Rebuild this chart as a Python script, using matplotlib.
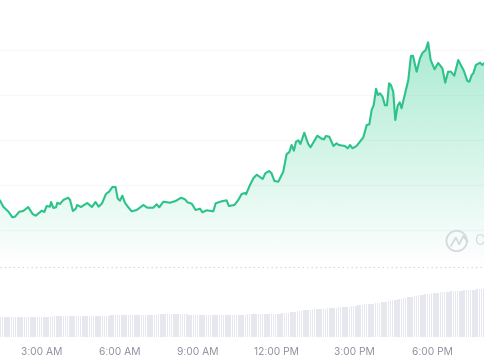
import numpy as np
import matplotlib
matplotlib.use('Agg')
import matplotlib.pyplot as plt

plt.rcParams['font.family'] = ['Inter', 'DejaVu Sans']

# hours since midnight
hours = [1.39, 1.51, 1.71, 1.86, 1.96, 2.13, 2.28, 2.47, 2.64, 2.76, 2.99, 3.09, 3.18, 3.31, 3.35, 3.44,
         3.54, 3.59, 3.69, 3.82, 4.01, 4.08, 4.19, 4.30, 4.35, 4.50, 4.74, 4.92, 5.06, 5.18, 5.31, 5.46,
         5.58, 5.71, 5.83, 5.91, 6.00, 6.09, 6.19, 6.32, 6.45, 6.64, 6.90, 7.05, 7.28, 7.41, 7.51, 7.67,
         7.92, 8.14, 8.35, 8.50, 8.60, 8.76, 8.91, 9.08, 9.17, 9.33, 9.59, 9.68, 9.91, 10.10, 10.19, 10.40,
         10.55, 10.68, 10.81, 10.85, 11.00, 11.13, 11.26, 11.49, 11.59, 11.74, 11.83, 11.94, 12.09, 12.28,
         12.41, 12.51, 12.60, 12.69, 12.77, 12.86, 12.94, 13.09, 13.24, 13.33, 13.59, 13.76, 13.85, 13.92,
         14.05, 14.21, 14.33, 14.42, 14.65, 14.76, 14.85, 14.94, 15.10, 15.36, 15.49, 15.59, 15.68, 15.76,
         15.85, 15.92, 16.00, 16.10, 16.19, 16.27, 16.35, 16.42, 16.51, 16.59, 16.68, 16.76, 16.83, 17.09,
         17.19, 17.27, 17.41, 17.54, 17.64, 17.76, 17.85, 17.95, 18.10, 18.24, 18.40, 18.51, 18.62, 18.73,
         18.86, 19.01, 19.23, 19.36, 19.44, 19.53, 19.59, 19.69, 19.85, 19.94, 20.04]

# price, relative to the dotted reference line
price = [66.3, 60.3, 55.3, 49.7, 50.3, 55.3, 56, 60, 53, 51.3, 56.3, 55, 61, 60.3, 65, 59,
         59.7, 64.3, 63, 67, 69.3, 67, 56, 58.3, 62, 60, 64, 60, 65, 60.3, 63.7, 73,
         75.3, 80, 80, 68.7, 66.3, 71.3, 64.3, 59.7, 55.7, 57, 62, 59.3, 59.3, 62.7, 59.7, 65.3,
         64.3, 66, 69.3, 67.7, 64.7, 63.3, 57, 58.3, 54.7, 56.7, 55.7, 63.7, 65.7, 66.7, 61, 62,
         67, 73, 74, 72.7, 82, 88.7, 92.3, 88, 93.7, 96, 93.7, 86, 85.3, 95.3,
         113, 114.7, 122, 116.3, 125.3, 126.7, 123, 134.3, 123, 119.7, 131.3, 128.3, 127.7, 131,
         130.3, 121, 123.7, 122, 121, 118.7, 122, 118.7, 121, 129.7, 142, 142.7, 157, 162,
         178.3, 172, 173.7, 170.3, 161.7, 161.7, 183.7, 182, 175.3, 147, 161.3, 164.7, 158.7, 187,
         211, 211.3, 195.3, 208.7, 214.3, 217, 224.7, 207, 197.7, 204, 198.7, 184.3, 195.3, 195.3,
         191.3, 207, 196, 186, 185.3, 192, 193.7, 202, 204.3, 202, 204.7]

# volume, one bar every 5 minutes
volume = [20, 20, 20, 20, 20, 20, 20, 20, 20, 20, 20, 20, 20, 20, 20, 20,
          20, 20, 20, 20.5, 20.5, 20.5, 20.5, 20.5, 21, 21, 21, 21, 21, 21, 21, 21,
          21, 21, 21, 21, 21, 21, 21, 21, 21.5, 21.5, 21.5, 21.5, 21.5, 21.5, 21.5, 21.5,
          21.5, 21.5, 21.5, 22, 22, 22, 22, 22, 22, 22, 22, 22, 22.5, 22.5, 22.5, 22.5,
          22.5, 22.5, 22.5, 22.5, 22.5, 22.5, 22.5, 22.5, 22.5, 23, 23, 23, 23, 23, 23, 23,
          23, 23, 23, 23, 23, 23, 23, 22.5, 22.5, 22.5, 22.5, 22.5, 22.5, 22, 22, 22,
          22, 22, 22, 22, 22, 22, 22, 22, 22, 22, 22.5, 22.5, 22.5, 22.5, 22.5, 22.5,
          22.5, 22.5, 23, 23, 23, 23, 23, 23, 23, 23, 23, 23, 23, 23, 23, 23,
          23, 23.5, 24, 24, 24, 24.5, 25, 25, 25.5, 26, 26, 26.5, 27, 27, 27, 27.5,
          27.5, 28, 28, 28, 28, 28.5, 28.5, 29, 29, 29, 29.5, 29.5, 30, 30, 30, 30,
          30.5, 30.5, 31, 31, 31.5, 32, 32, 32.5, 33, 33, 33, 33.5, 33.5, 34, 34, 34.5,
          35, 35, 35.5, 36, 36.5, 37, 37, 37.5, 38, 38.5, 39, 39.5, 40, 40, 40.5, 41,
          41.5, 42, 42, 42.5, 43, 43, 43.5, 44, 44, 44.5, 44.5, 45, 45, 45, 45.5, 45.5,
          46, 46, 46, 46.5, 46.5, 46.5, 47, 47, 47, 47.5, 47.5, 47.5, 48, 48, 48, 48]

grid_levels = [217, 172, 127, 82, 37]
tick_hours = [3, 6, 9, 12, 15, 18]
tick_labels = ['3:00 AM', '6:00 AM', '9:00 AM', '12:00 PM', '3:00 PM', '6:00 PM']

green = '#2cc38a'
xlim = (1.385, 20.04)
ylim = (-70, 267)

fig = plt.figure(figsize=(4.85, 3.6), dpi=100)
ax = fig.add_axes([0, 23/360, 1, 337/360])
ax.set_xlim(xlim)
ax.set_ylim(ylim)

# volume bars underneath
ax2 = ax.twinx()
ax2.set_ylim(0, 337)
bar_x = xlim[0] + 0.02 + np.arange(len(volume))/12
ax2.bar(bar_x, volume, width=0.058, color='#e6e7ef', linewidth=0)
ax2.set_yticks([])
ax2.set_zorder(0)
ax.set_zorder(1)
ax.patch.set_visible(False)

# gradient under the line
area = ax.fill_between(hours, price, 0, color='none')
n = 256
grad = np.zeros((n, 1, 4))
grad[:, 0, :3] = matplotlib.colors.to_rgb('#16c784')
grad[:, 0, 3] = np.linspace(0.36, 0, n)
im = ax.imshow(grad, extent=[xlim[0], xlim[1], 0, 225], aspect='auto', zorder=2)
im.set_clip_path(area.get_paths()[0], transform=ax.transData)
ax.set_xlim(xlim)
ax.set_ylim(ylim)

ax.plot(hours, price, color=green, lw=1.5, zorder=3, solid_joinstyle='round')

ax.set_yticks(grid_levels)
ax.set_yticklabels([])
ax.grid(axis='y', color='#f7f7f9', lw=0.8)
ax.set_axisbelow(True)
ax.axhline(0, color='#c9cbd4', lw=0.8, ls=(0, (1, 3)), zorder=1)

ax.set_xticks(tick_hours)
ax.set_xticklabels(tick_labels, fontsize=7.4, color='#8d92a0')
ax.tick_params(axis='both', length=0, pad=7)
for s in ax.spines.values():
    s.set_visible(False)
for s in ax2.spines.values():
    s.set_visible(False)

# watermark
ax.scatter([18.95], [26], s=215, facecolor='none', edgecolor='#d6d9e1', lw=1.3, zorder=4)
ax.plot([18.73, 18.92, 19.05, 19.2, 19.37], [21.3, 29.3, 22.7, 31, 25.3], color='#d6d9e1', lw=1.3, zorder=4)
ax.text(19.62, 26, 'Co', fontsize=10, color='#d6d9e1', va='center', zorder=4)

fig.savefig('out.png', dpi=100)
